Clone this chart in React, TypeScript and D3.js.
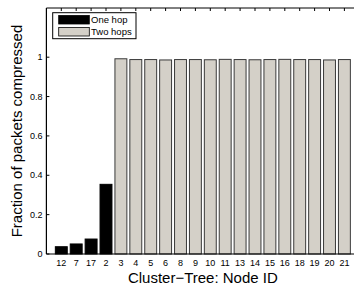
import React from "react";
import * as d3 from "d3";

const nodeIds = ["12", "7", "17", "2", "3", "4", "5", "6", "8", "9", "10", "11", "13", "14", "15", "16", "18", "19", "20", "21"];
const oneHopIds = ["12", "7", "17", "2"];
const fractions = [0.037, 0.051, 0.076, 0.354, 0.992, 0.988, 0.988, 0.986, 0.988, 0.988, 0.987, 0.989, 0.988, 0.987, 0.988, 0.989, 0.988, 0.988, 0.986, 0.988];
const yTicks = [0, 0.2, 0.4, 0.6, 0.8, 1];
const legendLabels = ["One hop", "Two hops"];

const FONT = "'Liberation Sans', Arial, Helvetica, sans-serif";

const App: React.FC = () => {
  const width = 354;
  const height = 285;
  const margin = { top: 8, left: 46.4, bottom: 254, right: 359.3 };

  const x = d3
    .scaleBand<string>()
    .domain(nodeIds)
    .range([margin.left, margin.right])
    .paddingInner(0.2)
    .paddingOuter(0.6);
  const y = d3.scaleLinear().domain([0, 1.25]).range([margin.bottom, margin.top]);

  const data = nodeIds.map((id, i) => ({ id, value: fractions[i], oneHop: oneHopIds.includes(id) }));

  return (
    <svg
      width={width}
      height={height}
      style={{ position: "absolute", left: 0, top: 0, background: "#fff" }}
      fontFamily={FONT}
    >
      {/* bars */}
      {data.map((d) => (
        <rect
          key={d.id}
          x={x(d.id)}
          y={y(d.value)}
          width={x.bandwidth()}
          height={y(0) - y(d.value)}
          fill={d.oneHop ? "#000" : "#d4d0c8"}
          stroke={d.oneHop ? "#000" : "#3a3a3a"}
          strokeWidth={1}
        />
      ))}

      {/* axes box */}
      <line x1={margin.left} x2={margin.right} y1={margin.top} y2={margin.top} stroke="#000" />
      <line x1={margin.left} x2={margin.right} y1={margin.bottom} y2={margin.bottom} stroke="#000" strokeWidth={1.2} />
      <line x1={margin.left} x2={margin.left} y1={margin.top} y2={margin.bottom} stroke="#000" strokeWidth={1.2} />

      {/* top ticks */}
      {nodeIds.map((id) => (
        <line
          key={id}
          x1={(x(id) ?? 0) + x.bandwidth() / 2}
          x2={(x(id) ?? 0) + x.bandwidth() / 2}
          y1={margin.top}
          y2={margin.top + 3}
          stroke="#000"
        />
      ))}

      {/* y ticks */}
      {yTicks.map((t) => (
        <g key={t}>
          <line x1={margin.left} x2={margin.left + 3} y1={y(t)} y2={y(t)} stroke="#000" />
          <text x={margin.left - 4} y={y(t)} dy="0.35em" textAnchor="end" fontSize={9} fill="#000">
            {t}
          </text>
        </g>
      ))}

      {/* x tick labels */}
      {nodeIds.map((id) => (
        <text
          key={id}
          x={(x(id) ?? 0) + x.bandwidth() / 2}
          y={266}
          textAnchor="middle"
          fontSize={9}
          fill="#000"
        >
          {id}
        </text>
      ))}

      {/* axis titles */}
      <text x={(margin.left + margin.right) / 2} y={282.5} textAnchor="middle" fontSize={15} fill="#000">
        Cluster−Tree: Node ID
      </text>
      <text
        transform={`translate(21.5,${(margin.top + margin.bottom) / 2}) rotate(-90)`}
        textAnchor="middle"
        fontSize={15}
        fill="#000"
      >
        Fraction of packets compressed
      </text>

      {/* legend */}
      <rect x={52.7} y={12.7} width={83.3} height={26} fill="#fff" stroke="#000" />
      {legendLabels.map((label, i) => (
        <g key={label}>
          <rect
            x={58.7}
            y={15.5 + i * 12}
            width={30.6}
            height={8.5}
            fill={i === 0 ? "#000" : "#d4d0c8"}
            stroke="#000"
            strokeWidth={0.8}
          />
          <text x={91} y={20 + i * 11.7} dy="0.35em" fontSize={9.5} fill="#000">
            {label}
          </text>
        </g>
      ))}
    </svg>
  );
};

export default App;
